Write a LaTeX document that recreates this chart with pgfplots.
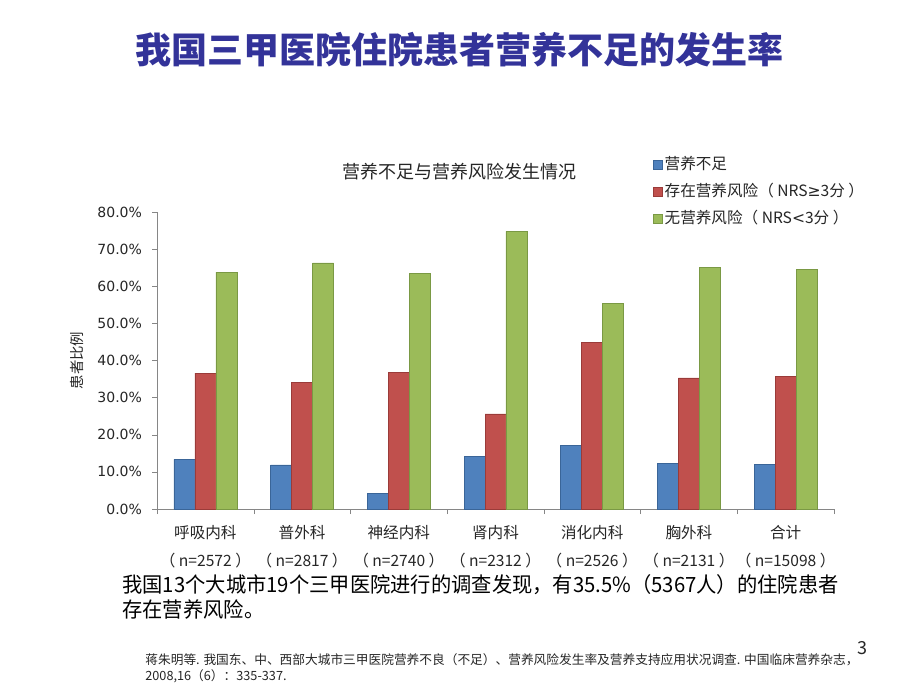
\documentclass[border=0pt]{standalone}
\usepackage{fontspec}
\setmainfont{Noto Sans CJK SC}
\newfontfamily\tickfont{DejaVu Sans}
\usepackage{pgfplots}
\pgfplotsset{compat=1.18}

\definecolor{titleblue}{HTML}{333399}
\definecolor{txt}{HTML}{262626}
\definecolor{axgray}{HTML}{868686}
\definecolor{bM}{HTML}{4F81BD}\definecolor{bD}{HTML}{3A6598}
\definecolor{rM}{HTML}{C0504D}\definecolor{rD}{HTML}{9A3B39}
\definecolor{gM}{HTML}{9BBB59}\definecolor{gD}{HTML}{7A9944}

\begin{document}
\begin{tikzpicture}
\begin{scope}[x=0.5pt,y=-0.5pt]
\path[use as bounding box,fill=white] (0,0) rectangle (920,690);

% slide title
\node[font=\fontsize{18}{20}\selectfont\bfseries,text=titleblue] at (459,50) {我国三甲医院住院患者营养不足的发生率};

% chart title
\node[font=\fontsize{9}{10}\selectfont,text=txt] at (459,172) {营养不足与营养风险发生情况};

% body text
\node[anchor=west,inner sep=0pt,font=\fontsize{10.5}{12}\selectfont,text=black] at (122,585) {\scalebox{0.966}[1]{我国13个大城市19个三甲医院进行的调查发现，有35.5\%（5367人）的住院患者}};
\node[anchor=west,inner sep=0pt,font=\fontsize{10.5}{12}\selectfont,text=black] at (122,609) {\scalebox{0.966}[1]{存在营养风险。}};

% page number
\node[font=\fontsize{9}{10}\selectfont,text=txt] at (862,648) {3};

% reference
\node[anchor=west,inner sep=0pt,font=\fontsize{6.35}{7}\selectfont,text=txt] at (145,660) {蒋朱明等. 我国东、中、西部大城市三甲医院营养不良（不足）、营养风险发生率及营养支持应用状况调查. 中国临床营养杂志，};
\node[anchor=west,inner sep=0pt,font=\fontsize{6.35}{7}\selectfont,text=txt] at (145,676) {2008,16（6）：335-337.};
\end{scope}

\begin{axis}[
    at={(78.5pt,-254.5pt)}, anchor=south west,
    scale only axis, width=338.5pt, height=148.5pt,
    xmin=-0.5, xmax=6.5, ymin=0, ymax=80,
    axis lines*=left,
    axis line style={axgray},
    ybar=0pt, bar width=0.217,
    xtick={0,...,6},
    xticklabels={呼吸内科\\（ n=2572 ）,普外科\\（ n=2817 ）,神经内科\\（ n=2740 ）,肾内科\\（ n=2312 ）,消化内科\\（ n=2526 ）,胸外科\\（ n=2131 ）,合计\\（ n=15098 ）},
    xticklabel style={align=center,font=\fontsize{7.8}{14}\selectfont,text=txt,yshift=-2pt},
    major x tick style={draw=none},
    minor xtick={-0.5,0.5,...,6.5},
    minor x tick style={axgray},
    minor tick length=2.5pt,
    ytick={0,10,...,80},
    y tick style={axgray},
    major tick length=2.5pt,
    tick align=outside,
    /pgf/number format/assume math mode=true,
    yticklabel={\pgfmathprintnumber[fixed,fixed zerofill,precision=1]{\tick}\%},
    yticklabel style={font=\tickfont\fontsize{7}{8}\selectfont,text=txt,xshift=-1.5pt},
    ylabel={患者比例},
    ylabel style={font=\fontsize{7.2}{8}\selectfont,text=txt},
    legend style={at={(rel axis cs:0.732,1.195)},anchor=north west,draw=none,fill=none,
        font=\fontsize{7.8}{9}\selectfont,text=txt,row sep=3.6pt,inner sep=0pt,
        nodes={inner sep=1pt,text height=6.5pt,text depth=1.5pt}},
    legend cell align=left,
    legend image code/.code={\fill[#1] (0cm,-0.08cm) rectangle (0.16cm,0.08cm);},
]
\addplot[draw=bD,line width=0.3pt,fill=bM] coordinates {
    (0,13.4)(1,11.9)(2,4.1)(3,14.1)(4,17.2)(5,12.3)(6,12.0)};
\addplot[draw=rD,line width=0.3pt,fill=rM] coordinates {
    (0,36.6)(1,34.0)(2,36.7)(3,25.6)(4,44.8)(5,35.3)(6,35.7)};
\addplot[draw=gD,line width=0.3pt,fill=gM] coordinates {
    (0,63.8)(1,66.3)(2,63.5)(3,74.8)(4,55.4)(5,65.0)(6,64.6)};
\legend{营养不足,存在营养风险（ NRS{\tickfont ≥}3分 ）,无营养风险（ NRS{\tickfont <}3分 ）}
\end{axis}
\end{tikzpicture}
\end{document}
